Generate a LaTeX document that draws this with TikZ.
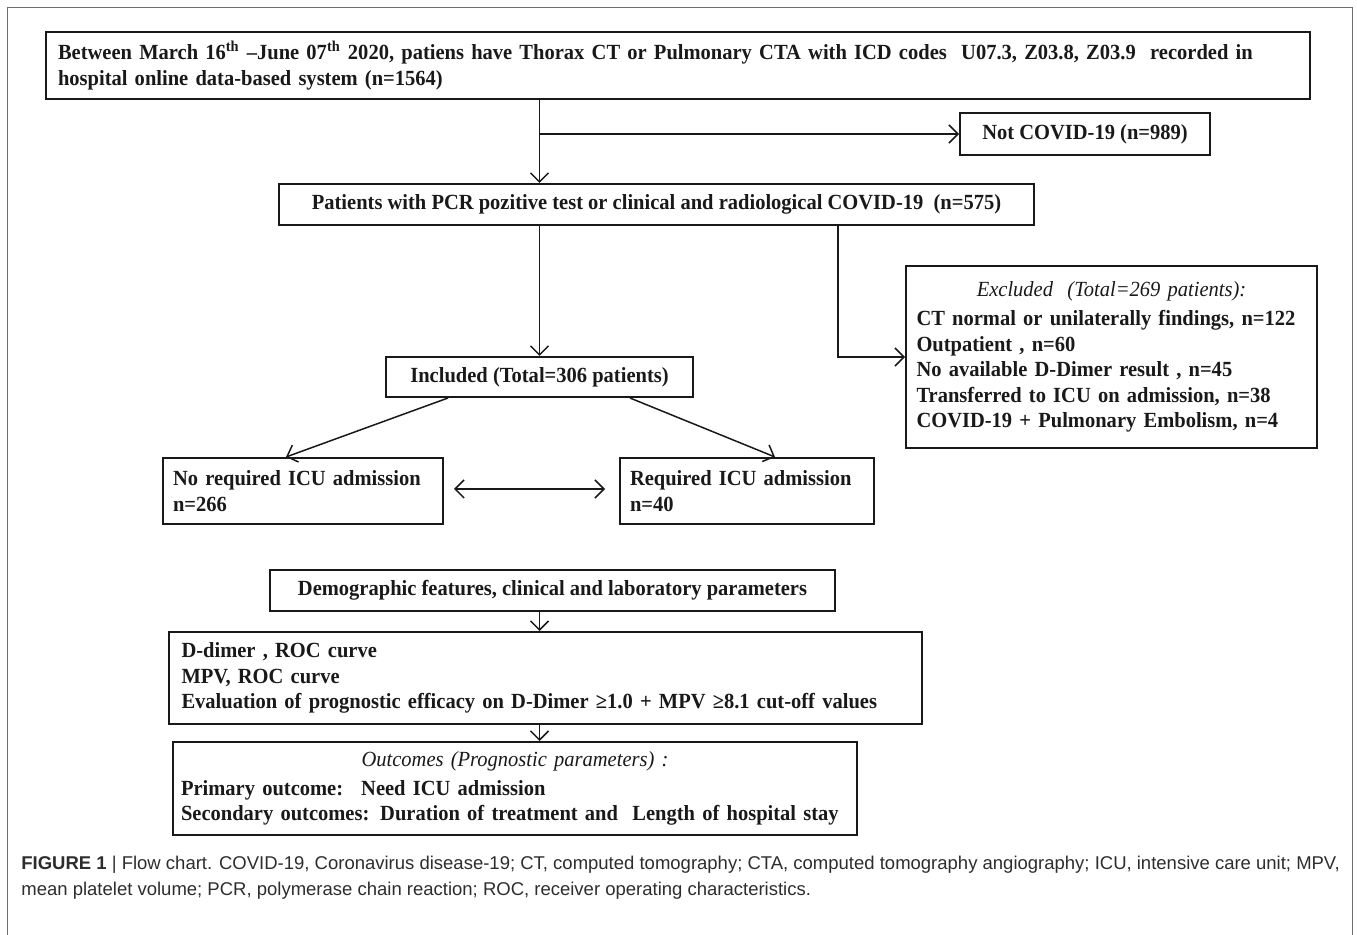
\documentclass[tikz,border=0pt]{standalone}
\usepackage{fontspec}
\setmainfont{Liberation Serif}[FakeStretch=0.95]
\setsansfont{Liberation Sans}
\usetikzlibrary{arrows.meta}
\usetikzlibrary{calc}
\definecolor{frame}{RGB}{110,110,110}
\definecolor{ink}{RGB}{25,25,25}
\definecolor{captionink}{RGB}{45,45,45}
\tikzset{
  box/.style={draw=ink, line width=1pt, inner sep=0pt, text=ink,
    font=\bfseries\fontsize{10.8}{12.75}\selectfont},
  arr/.style={draw=ink, line width=0.75pt, -{Straight Barb[length=4.5pt,width=9pt]}},
  twoarr/.style={draw=ink, line width=0.75pt, {Straight Barb[length=4.5pt,width=9pt]}-{Straight Barb[length=4.5pt,width=9pt]}},
}

\begin{document}
\begin{tikzpicture}[x=0.5pt, y=-0.5pt]
            \useasboundingbox (0,0) rectangle (1357,935);
            \draw[frame, line width=0.5pt] (7,935) -- (7,8) -- (1352,8) -- (1352,935);

            \node[box, minimum width=632pt, minimum height=33.5pt, text width=620pt, align=left] (top) at (678,65.5)
                {Between March 16\textsuperscript{th} --June 07\textsuperscript{th} 2020, patiens have Thorax CT or Pulmonary CTA with ICD codes~ U07.3, Z03.8, Z03.9~ recorded in\\
                 hospital online data-based system (n=1564)};
            \node[box, minimum width=125pt, minimum height=21pt] (notcovid) at (1085,134) {Not COVID-19 (n=989)};
            \node[box, minimum width=377.5pt, minimum height=20.5pt] (pcr) at (656.5,204.5)
                {Patients with PCR pozitive test or clinical and radiological COVID-19~ (n=575)};
            \node[box, minimum width=153.5pt, minimum height=20pt] (included) at (539.5,377) {Included (Total=306 patients)};
            \node[box, minimum width=205.5pt, minimum height=91pt, text width=195pt, align=left] (excluded) at (1111.5,357)
                {\makebox[195pt]{\mdseries\itshape Excluded~ (Total=269 patients):}\\[2pt]
                 CT normal or unilaterally findings, n=122\\
                 Outpatient , n=60\\
                 No available D-Dimer result , n=45\\
                 Transferred to ICU on admission, n=38\\
                 COVID-19 + Pulmonary Embolism, n=4};
            \node[box, minimum width=140pt, minimum height=33pt, text width=130pt, align=left] (noicu) at (303,491)
                {No required ICU admission\\ n=266};
            \node[box, minimum width=127pt, minimum height=33pt, text width=117pt, align=left] (icu) at (747,491)
                {Required ICU admission\\ n=40};
            \node[box, minimum width=282.5pt, minimum height=20.5pt] (demog) at (552.5,590.5)
                {Demographic features, clinical and laboratory parameters};
            \node[box, minimum width=376.5pt, minimum height=46pt, text width=364pt, align=left] (dimer) at (545.5,678)
                {D-dimer , ROC curve\\
                 MPV, ROC curve\\
                 Evaluation of prognostic efficacy on D-Dimer ≥1.0 + MPV ≥8.1 cut-off values};
            \node[box, minimum width=342pt, minimum height=46.5pt, text width=334pt, align=left] (outcome) at (515,788.5)
                {\makebox[334pt]{\mdseries\itshape Outcomes (Prognostic parameters) :}\\[1.5pt]
                 Primary outcome:~ Need ICU admission\\
                 Secondary outcomes: Duration of treatment and~ Length of hospital stay};

            \draw[arr] (top.south -| included) -- (pcr.north -| included);
            \draw[arr] (notcovid.west -| included) -- (notcovid.west);
            \draw[arr] (pcr.south -| included) -- (included.north);
            \draw[arr] ($(pcr.south east)+(-197,0)$) |- (excluded.west);
            \draw[arr] ($(included.south west)+(63,0)$) -- ($(noicu.north)+(-17,0)$);
            \draw[arr] ($(included.south east)+(-64,0)$) -- ($(icu.north)+(28,0)$);
            \draw[twoarr] ($(noicu.east)+(10,-2)$) -- ($(icu.west)+(-14,-2)$);
            \draw[arr] (demog.south -| included) -- (dimer.north -| included);
            \draw[arr] (dimer.south -| included) -- (outcome.north -| included);

            \node[anchor=north west, inner sep=0pt, align=left, text=captionink,
                  font=\sffamily\fontsize{9.25}{13}\selectfont] (caption) at (21,856)
                {\textbf{FIGURE 1} | Flow chart. COVID-19, Coronavirus disease-19; CT, computed tomography; CTA, computed tomography angiography; ICU, intensive care unit; MPV,\\
                 mean platelet volume; PCR, polymerase chain reaction; ROC, receiver operating characteristics.};
\end{tikzpicture}
\end{document}
